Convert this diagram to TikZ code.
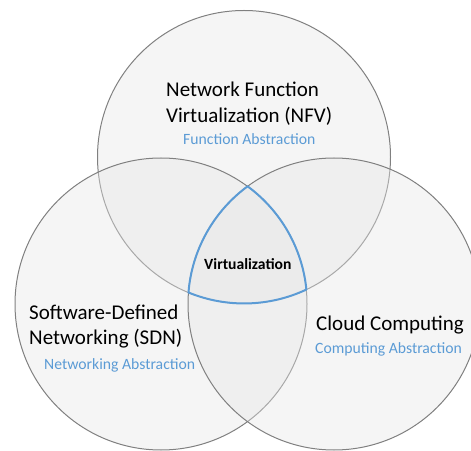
\documentclass[tikz,border=0pt]{standalone}
\usepackage{fontspec}
\setmainfont{Carlito}
\definecolor{ringline}{RGB}{128,128,128}
\definecolor{ringfill}{RGB}{230,230,230}
\definecolor{absblue}{RGB}{91,155,213}
\begin{document}
\begin{tikzpicture}[x=1pt,y=1pt,
  ring/.style={draw=ringline,line width=1pt,fill=ringfill,fill opacity=0.4},
  bigtxt/.style={inner sep=0pt,anchor=base west,font=\fontsize{21}{25}\selectfont,text=black},
  subtxt/.style={inner sep=0pt,anchor=base west,font=\fontsize{15.7}{19}\selectfont,text=absblue},
  coretxt/.style={inner sep=0pt,anchor=base west,font=\fontsize{15.6}{19}\selectfont\bfseries,text=black},
  coreline/.style={draw=absblue,line width=2pt,line join=round}]
\useasboundingbox (0,0) rectangle (471,450);
\begin{scope}
\clip (0,0) rectangle (471,450);
\coordinate (T) at (244,293);
\coordinate (L) at (161,146);
\coordinate (R) at (334,146);
\path[ring] (T) circle[radius=146.5];
\path[ring] (L) circle[radius=146];
\path[ring] (R) circle[radius=146];
% triple intersection outline
\coordinate (P1) at (247.5,263.6);
\draw[coreline] (P1) arc[start angle=126.34,end angle=175.48,radius=146]
  arc[start angle=247.69,end angle=295.17,radius=146.5]
  arc[start angle=5.66,end angle=53.66,radius=146] -- cycle;
\end{scope}
\node[bigtxt] (nfv1) at (166,353) {Network Function};
\node[bigtxt] (nfv2) at (166,327.3) {Virtualization (NFV)};
\node[subtxt] (nfvs) at (183,305.7) {Function Abstraction};
\node[coretxt] (virt) at (204,180.7) {Virtualization};
\node[bigtxt] (sdn1) at (29,130.7) {Software-Defined};
\node[bigtxt] (sdn2) at (29,105.5) {Networking (SDN)};
\node[subtxt] (sdns) at (44,80.7) {Networking Abstraction};
\node[bigtxt] (cc1) at (316,120) {Cloud Computing};
\node[subtxt] (ccs) at (315,96.7) {Computing Abstraction};
\end{tikzpicture}
\end{document}
